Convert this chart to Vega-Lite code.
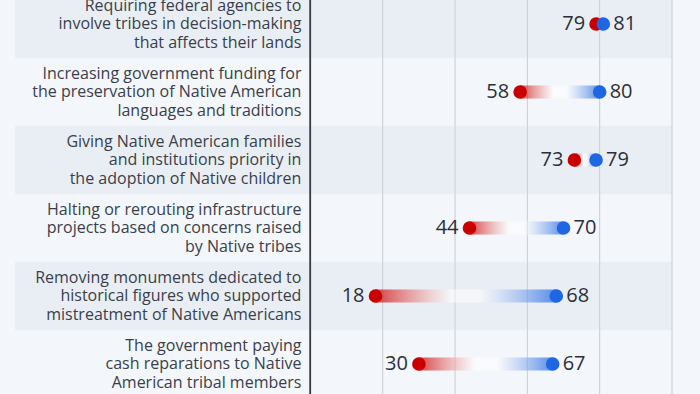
{
  "$schema": "https://vega.github.io/schema/vega-lite/v6.json",
  "width": 657,
  "height": 408,
  "autosize": {"type": "none"},
  "padding": {"left": 15, "top": -10, "right": 28, "bottom": 0},
  "background": "#f3f6fa",
  "config": {"view": {"stroke": null}, "font": "Open Sans"},
  "datasets": {
    "rows": [
      {"item": "Requiring federal agencies to\ninvolve tribes in decision-making\nthat affects their lands", "rep": 79, "dem": 81},
      {"item": "Increasing government funding for\nthe preservation of Native American\nlanguages and traditions", "rep": 58, "dem": 80},
      {"item": "Giving Native American families\nand institutions priority in\nthe adoption of Native children", "rep": 73, "dem": 79},
      {"item": "Halting or rerouting infrastructure\nprojects based on concerns raised\nby Native tribes", "rep": 44, "dem": 70},
      {"item": "Removing monuments dedicated to\nhistorical figures who supported\nmistreatment of Native Americans", "rep": 18, "dem": 68},
      {"item": "The government paying\ncash reparations to Native\nAmerican tribal members", "rep": 30, "dem": 67}
    ],
    "ticks": [{"t": 20}, {"t": 40}, {"t": 60}, {"t": 80}, {"t": 100}]
  },
  "data": {"name": "rows"},
  "transform": [{"window": [{"op": "row_number", "as": "rank"}]}],
  "layer": [
    {
      "mark": {"type": "rect"},
      "encoding": {
        "y": {"field": "item", "type": "nominal", "sort": null, "axis": null, "scale": {"paddingInner": 0, "paddingOuter": 0}},
        "x": {"datum": -81.7, "type": "quantitative", "axis": null, "scale": {"domain": [-81.7, 100], "nice": false, "zero": false}},
        "x2": {"datum": 100},
        "color": {"condition": {"test": "datum.rank % 2 == 1", "value": "#e9eef5"}, "value": "transparent"}
      }
    },
    {
      "data": {"name": "ticks"},
      "mark": {"type": "rule", "color": "#c9cdd4", "strokeWidth": 1},
      "encoding": {
        "x": {"field": "t", "type": "quantitative", "axis": null, "scale": {"domain": [-81.7, 100], "nice": false, "zero": false}}
      }
    },
    {
      "mark": {"type": "rule", "color": "#353b45", "strokeWidth": 1.2},
      "encoding": {
        "x": {"datum": 0, "type": "quantitative", "axis": null, "scale": {"domain": [-81.7, 100], "nice": false, "zero": false}}
      }
    },
    {
      "mark": {
        "type": "bar",
        "size": 13,
        "orient": "horizontal",
        "fill": {
          "gradient": "linear",
          "x1": 0, "y1": 0, "x2": 1, "y2": 0,
          "stops": [
            {"offset": 0, "color": "rgba(204,0,0,0.72)"},
            {"offset": 0.42, "color": "rgba(255,255,255,0.5)"},
            {"offset": 0.58, "color": "rgba(255,255,255,0.5)"},
            {"offset": 1, "color": "rgba(30,100,225,0.72)"}
          ]
        }
      },
      "encoding": {
        "y": {"field": "item", "type": "nominal", "sort": null, "axis": null, "scale": {"paddingInner": 0, "paddingOuter": 0}},
        "x": {"field": "rep", "type": "quantitative", "axis": null, "scale": {"domain": [-81.7, 100], "nice": false, "zero": false}},
        "x2": {"field": "dem"}
      }
    },
    {
      "mark": {"type": "circle", "color": "#c80000", "size": 185, "opacity": 1},
      "encoding": {
        "y": {"field": "item", "type": "nominal", "sort": null, "axis": null, "scale": {"paddingInner": 0, "paddingOuter": 0}},
        "x": {"field": "rep", "type": "quantitative", "axis": null, "scale": {"domain": [-81.7, 100], "nice": false, "zero": false}}
      }
    },
    {
      "mark": {"type": "circle", "color": "#1f66e3", "size": 185, "opacity": 1},
      "encoding": {
        "y": {"field": "item", "type": "nominal", "sort": null, "axis": null, "scale": {"paddingInner": 0, "paddingOuter": 0}},
        "x": {"field": "dem", "type": "quantitative", "axis": null, "scale": {"domain": [-81.7, 100], "nice": false, "zero": false}}
      }
    },
    {
      "mark": {"type": "text", "align": "right", "baseline": "middle", "dx": -11, "fontSize": 20, "color": "#2b2f38"},
      "encoding": {
        "y": {"field": "item", "type": "nominal", "sort": null, "axis": null, "scale": {"paddingInner": 0, "paddingOuter": 0}},
        "x": {"field": "rep", "type": "quantitative", "axis": null, "scale": {"domain": [-81.7, 100], "nice": false, "zero": false}},
        "text": {"field": "rep", "type": "quantitative"}
      }
    },
    {
      "mark": {"type": "text", "align": "left", "baseline": "middle", "dx": 10, "fontSize": 20, "color": "#2b2f38"},
      "encoding": {
        "y": {"field": "item", "type": "nominal", "sort": null, "axis": null, "scale": {"paddingInner": 0, "paddingOuter": 0}},
        "x": {"field": "dem", "type": "quantitative", "axis": null, "scale": {"domain": [-81.7, 100], "nice": false, "zero": false}},
        "text": {"field": "dem", "type": "quantitative"}
      }
    },
    {
      "mark": {"type": "text", "align": "right", "baseline": "middle", "dx": -9, "dy": -18.5, "fontSize": 16, "lineHeight": 18.5, "lineBreak": "\n", "color": "#3a3f4b"},
      "encoding": {
        "y": {"field": "item", "type": "nominal", "sort": null, "axis": null, "scale": {"paddingInner": 0, "paddingOuter": 0}},
        "x": {"datum": 0, "type": "quantitative", "axis": null, "scale": {"domain": [-81.7, 100], "nice": false, "zero": false}},
        "text": {"field": "item", "type": "nominal"}
      }
    }
  ]
}
